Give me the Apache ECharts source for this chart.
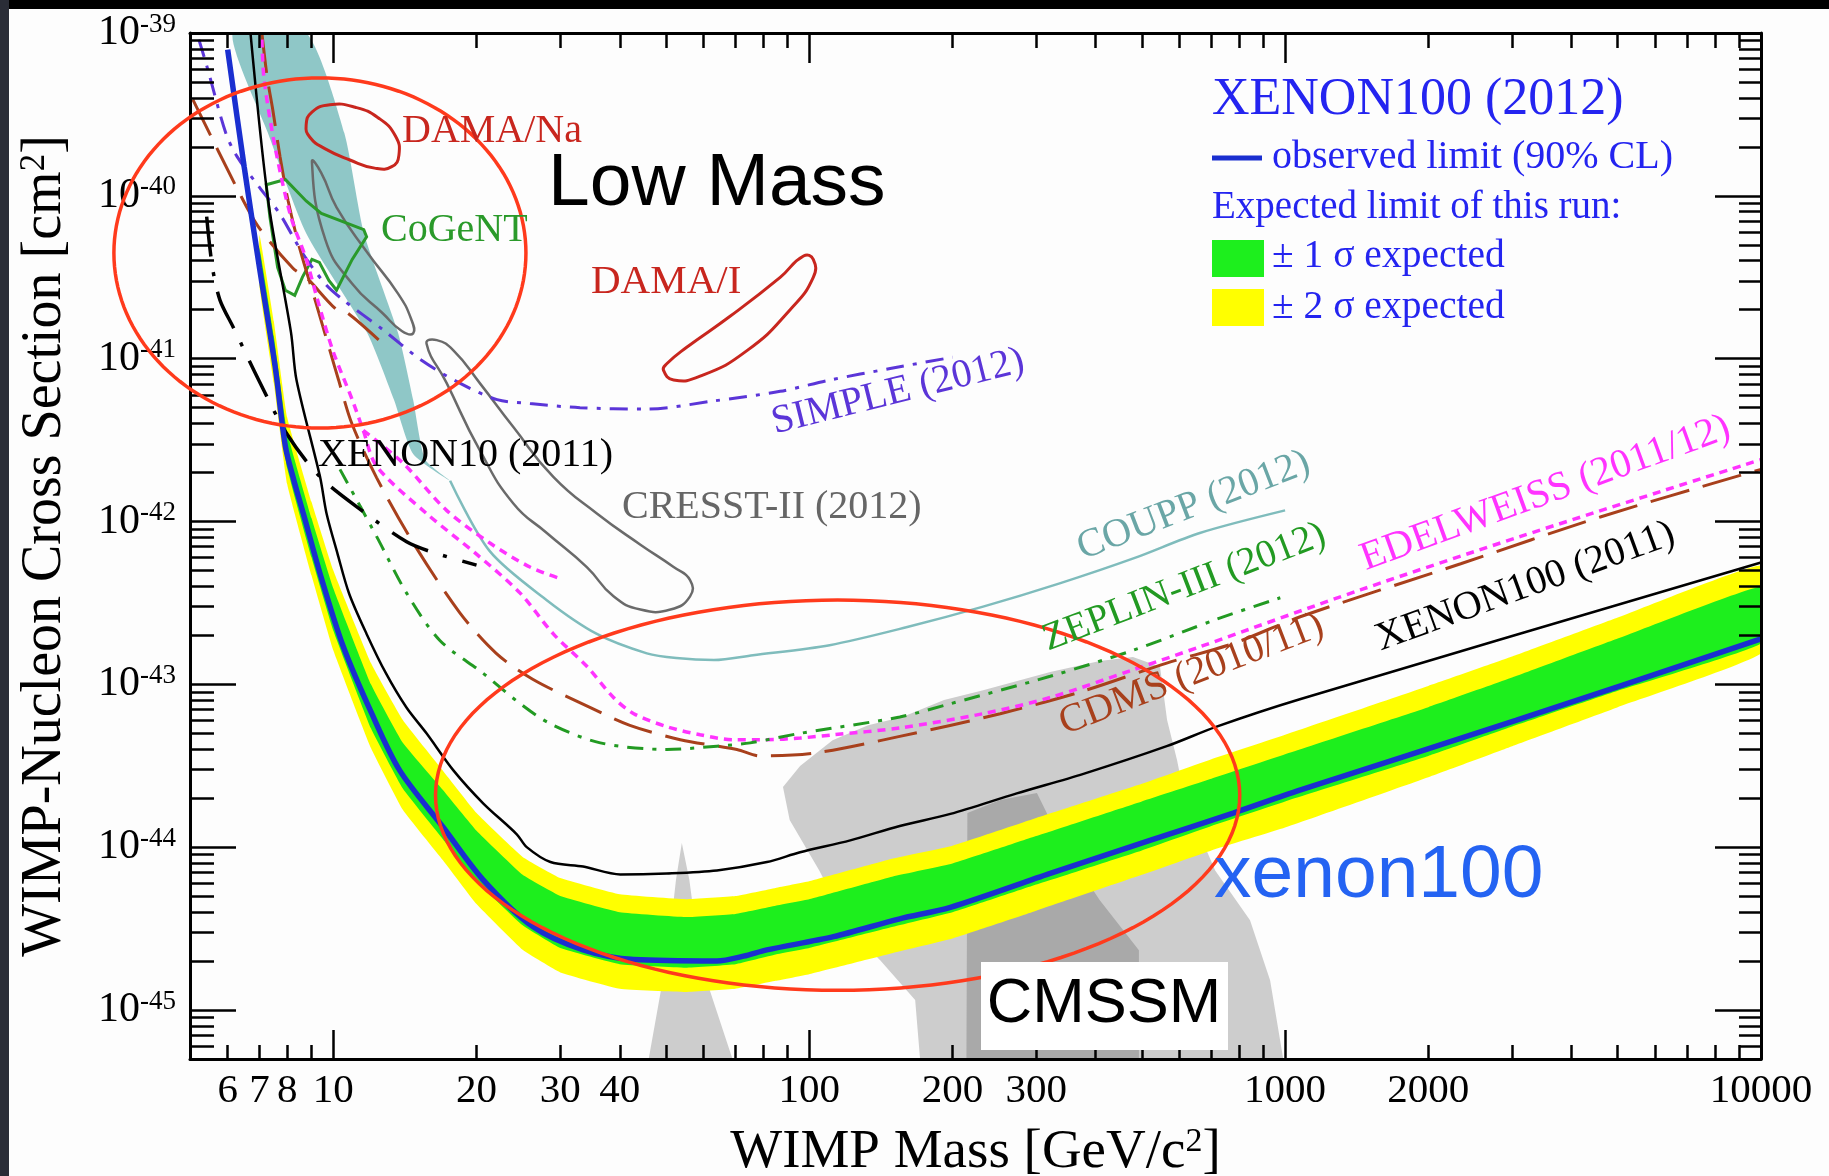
<!DOCTYPE html>
<html><head><meta charset="utf-8">
<script src="https://cdn.jsdelivr.net/npm/echarts@6/dist/echarts.min.js"></script>
<style>html,body{margin:0;padding:0;background:#fff}#c{width:1829px;height:1176px}</style>
</head><body><div id="c"></div>
<script>
// ---------------- DATA (mass in GeV/c^2, cross section in cm^2) ----------------
const xTickLabels = [6, 7, 8, 10, 20, 30, 40, 100, 200, 300, 1000, 2000, 10000];
const xMajorTicks = [10, 100, 1000, 10000];
const xMinorTicks = [6, 7, 8, 9, 20, 30, 40, 50, 60, 70, 80, 90, 200, 300, 400, 500, 600, 700, 800, 900,
  2000, 3000, 4000, 5000, 6000, 7000, 8000, 9000];
const yTickLabels = [1e-45, 1e-44, 1e-43, 1e-42, 1e-41, 1e-40, 1e-39];
const yDecades = [-46, -45, -44, -43, -42, -41, -40];
const yMinorMantissas = [2, 3, 4, 5, 6, 7, 8, 9];

// XENON100 (2012) observed limit
const xenon100_2012 = [[6.0,7.9e-40],[6.5,1.5e-40],[7.0,3.6e-41],[7.55,8.9e-42],[7.93,2.9e-42],[8.26,1.8e-42],
  [8.65,1.12e-42],[9.46,4.4e-43],[10.5,1.7e-43],[12.05,6.6e-44],[13.8,2.95e-44],[17.0,1.33e-44],[20.65,6.3e-45],
  [26.3,3.24e-45],[33.5,2.34e-45],[42.8,2.04e-45],[64,2.0e-45],[72.8,2.14e-45],[81.5,2.34e-45],[112.5,2.82e-45],
  [155,3.63e-45],[198,4.27e-45],[321,6.9e-45],[520,1.1e-44],[778,1.62e-44],[1074,2.24e-44],[3055,6.0e-44],[10000,1.9e-43]];

// expected sensitivity bands
const bandMass   = [7.0,7.5,8.0,9.0,10,12,14,17,20,25,30,40,55,70,85,100,150,200,300,500,700,1000,2000,3000,5000,10000];
const band2Upper = [5.75e-41,1.70e-41,4.37e-42,1.32e-42,5.01e-43,1.35e-43,6.03e-44,2.95e-44,1.62e-44,8.71e-45,6.46e-45,5.13e-45,4.79e-45,5.01e-45,5.62e-45,6.17e-45,8.51e-45,1.02e-44,1.51e-44,2.45e-44,3.47e-44,4.90e-44,9.77e-44,1.48e-43,2.57e-43,5.37e-43];
const band1Upper = [4.79e-41,1.38e-41,3.55e-42,1.05e-42,3.89e-43,1.0e-43,4.37e-44,2.24e-44,1.26e-44,6.76e-45,5.01e-45,3.98e-45,3.72e-45,3.89e-45,4.37e-45,4.79e-45,6.61e-45,7.94e-45,1.17e-44,1.91e-44,2.63e-44,3.72e-44,7.24e-44,1.10e-43,1.91e-43,3.98e-43];
const band1Lower = [3.16e-41,8.71e-42,2.14e-42,6.03e-43,2.14e-43,5.37e-44,2.29e-44,1.12e-44,6.17e-45,3.31e-45,2.40e-45,1.91e-45,1.82e-45,1.91e-45,2.19e-45,2.40e-45,3.24e-45,3.98e-45,5.89e-45,9.55e-45,1.35e-44,1.91e-44,3.63e-44,5.50e-44,9.12e-44,1.78e-43];
const band2Lower = [2.75e-41,7.08e-42,1.70e-42,4.68e-43,1.62e-43,4.07e-44,1.70e-44,8.32e-45,4.47e-45,2.34e-45,1.70e-45,1.35e-45,1.29e-45,1.35e-45,1.51e-45,1.66e-45,2.24e-45,2.75e-45,4.07e-45,6.76e-45,9.55e-45,1.32e-44,2.69e-44,4.17e-44,7.24e-44,1.55e-43];

const xenon100_2011 = [[6.7,1.0e-39],[7.3,9.3e-41],[8.15,1.45e-41],[8.37,7.4e-42],[9.38,1.88e-42],[9.68,1.12e-42],
  [10.2,6.4e-43],[10.8,3.6e-43],[11.75,2.04e-43],[12.9,1.17e-43],[14.25,7.2e-44],[15.7,5.0e-44],[17.9,2.95e-44],
  [20.65,1.86e-44],[24.3,1.2e-44],[25.5,1.0e-44],[28.6,8.1e-45],[33.5,7.6e-45],[40.1,6.8e-45],[50.2,6.9e-45],
  [64,7.2e-45],[81.5,8.1e-45],[95.7,9.3e-45],[122,1.1e-44],[155,1.35e-44],[198,1.6e-44],[273,2.14e-44],
  [377,2.82e-44],[564,4.17e-44],[718,5.5e-44],[1074,8.1e-44],[10000,5.6e-43]];

const xenon10_2011 = [[5.42,7.45e-41],[5.57,3.67e-41],[5.78,2.29e-41],[6.17,1.55e-41],[6.97,7.4e-42],[7.98,3.47e-42],
  [9.38,1.88e-42],[11.56,1.15e-42],[14.26,7.5e-43],[16.1,6.5e-43],[20.0,5.4e-43]];

const couppBand = [[6.15,1.0e-39],[7.29,2.43e-40],[8.77,5.9e-41],[11.78,1.44e-41],[13.42,5.57e-42],[14.72,2.6e-42],
  [17.6,1.78e-42],[15.6,2.4e-42],[14.72,5.57e-42],[13.68,1.44e-41],[11.6,5.9e-41],[10.55,2.43e-40],[8.77,1.0e-39]];
const coupp2012 = [[17.6,1.78e-42],[21.3,6.6e-43],[28.05,3.3e-43],[35.8,2.04e-43],[45.6,1.55e-43],[52.6,1.45e-43],
  [63.1,1.41e-43],[76.2,1.51e-43],[110.4,1.74e-43],[160,2.24e-43],[232,3.0e-43],[336,4.17e-43],[485,6.0e-43],
  [662,8.5e-43],[1000,1.17e-42]];

const edelweiss = [[7.08,9.1e-40],[7.16,5.1e-40],[7.57,1.9e-40],[8.15,7.4e-41],[8.77,4.1e-41],[9.27,2.29e-41],
  [9.98,1.12e-41],[10.96,5.6e-42],[11.56,3.63e-42],[12.33,2.19e-42],[15.7,1.12e-42],[20.0,6.3e-43],[24.7,3.63e-43],
  [29.0,2.04e-43],[34.1,1.29e-43],[38.8,8.3e-44],[42.8,6.6e-44],[50.2,5.5e-44],[59.0,4.9e-44],[69.3,4.57e-44],
  [81.5,4.57e-44],[95.7,4.68e-44],[112.5,4.9e-44],[155,5.4e-44],[232,6.6e-44],[321,8.3e-44],[480,1.23e-43],
  [662,1.7e-43],[1439,3.8e-43],[3126,8.1e-43],[10000,2.4e-42]];
const edelweissLow = [[11.56,3.63e-42],[14.0,2.29e-42],[17.3,1.17e-42],[21.3,7.4e-43],[25.9,5.25e-43],[29.9,4.47e-43]];

const cdms = [[7.08,1.0e-39],[7.26,5.4e-40],[7.46,3.4e-40],[7.73,1.74e-40],[8.04,9.3e-41],[8.51,4.7e-41],[9.16,2.29e-41],
  [9.84,1.12e-41],[10.26,7.4e-42],[10.94,4.0e-42],[12.33,1.86e-42],[14.72,7.4e-43],[18.45,2.75e-43],[22.0,1.55e-43],
  [26.3,1.07e-43],[34.7,7.2e-44],[42.0,5.6e-44],[53.6,4.57e-44],[70.5,3.98e-44],[78.9,3.63e-44],[103.8,3.8e-44],
  [155,4.79e-44],[252,6.6e-44],[377,9.1e-44],[564,1.35e-43],[778,1.78e-43],[1076,2.6e-43],[2339,5.5e-43],
  [4613,1.07e-42],[10000,2.09e-42]];
const cdmsLow = [[5.07,3.9e-40],[6.34,1.05e-40],[6.95,6.5e-41],[8.22,3.6e-41],[8.77,3.16e-41],[10.16,2.0e-41],
  [10.74,1.9e-41],[12.85,1.2e-41]];

const zeplin = [[10.33,2.09e-42],[12.33,8.1e-43],[14.26,3.63e-43],[16.75,1.86e-43],[20.65,1.17e-43],[24.3,7.9e-44],
  [28.5,5.75e-44],[36.4,4.37e-44],[50.2,3.98e-44],[64,4.17e-44],[75.2,4.37e-44],[95.7,5.0e-44],[155,6.3e-44],
  [198,7.6e-44],[321,1.12e-43],[480,1.62e-43],[718,2.51e-43],[977,3.4e-43]];

const simple2012 = [[5.22,9.1e-40],[5.43,6.2e-40],[5.94,2.45e-40],[6.28,1.74e-40],[7.01,1.12e-40],[7.71,7.8e-41],
  [8.61,4.47e-41],[9.62,2.88e-41],[10.5,2.29e-41],[12.7,1.51e-41],[15.3,9.8e-42],[18.4,7.1e-42],[22.1,5.6e-42],
  [25.9,5.3e-42],[33.0,5.0e-42],[45.6,4.9e-42],[63,5.5e-42],[86.9,6.3e-42],[110.7,7.4e-42],[148,8.7e-42],[200,1.02e-41]];

const cresst1 = [[9.02,1.62e-40],[9.62,5.4e-41],[10.96,2.88e-41],[12.7,1.9e-41],[13.93,1.48e-41],[14.72,1.43e-41],
  [14.59,1.74e-41],[13.68,2.51e-41],[11.8,4.47e-41],[10.16,8.5e-41],[9.44,1.38e-40]];
const cresst2 = [[15.7,1.24e-41],[17.3,7.1e-42],[20.3,2.75e-42],[23.9,1.29e-42],[28.1,8.5e-43],[34.1,5.25e-43],
  [38.8,3.47e-43],[44.2,2.88e-43],[51.1,2.88e-43],[56.2,3.47e-43],[56.2,4.37e-43],[51.9,5.25e-43],[44.2,7.2e-43],
  [35.8,1.12e-42],[29.0,1.88e-42],[23.9,3.8e-42],[20.3,7.1e-42],[17.9,1.12e-41],[16.5,1.3e-41]];
const damaNa = [[8.77,2.72e-40],[9.02,3.27e-40],[9.84,3.63e-40],[11.12,3.5e-40],[12.42,3.02e-40],[13.5,2.34e-40],
  [13.74,1.78e-40],[13.27,1.51e-40],[12.22,1.48e-40],[10.84,1.66e-40],[9.6,1.95e-40],[8.93,2.29e-40]];
const damaI = [[49.4,8.5e-42],[51.9,7.4e-42],[59.0,7.8e-42],[74.0,1.12e-41],[91.2,2.0e-41],[102,3.16e-41],
  [102,4.07e-41],[97.3,4.27e-41],[86.9,3.16e-41],[68.2,1.82e-41],[55.2,1.17e-41],[50.2,9.3e-42]];
const cogent = [[7.23,1.17e-40],[7.93,1.26e-40],[8.77,9.3e-41],[9.44,7.8e-41],[11.59,6.2e-41],[11.75,5.6e-41],
  [10.96,4.07e-41],[10.16,2.63e-41],[9.79,3.02e-41],[9.35,3.9e-41],[9.02,4.07e-41],[8.61,3.16e-41],[8.3,2.45e-41],
  [7.93,2.63e-41],[7.64,3.63e-41],[7.36,7.4e-41]];

const cmssmSpike = [[46,5e-46],[50.5,2.3e-45],[52.5,6.3e-45],[54,1.06e-44],[56,6.3e-45],[59,2.0e-45],[69,5e-46]];
const cmssmLight = [[88.1,2.34e-44],[95.7,3.15e-44],[112,4.54e-44],[133,5.61e-44],[157,6.3e-44],[192,8.0e-44],
  [232,9.2e-44],[321,1.19e-43],[408,1.39e-43],[479,1.47e-43],[546,1.28e-43],[565,6.03e-44],[593,3.42e-44],
  [616,1.95e-44],[713,7.2e-45],[844,3.56e-45],[930,1.52e-45],[991,5e-46],[171,5e-46],[167,1.15e-45],[141,2.02e-45],
  [122,3.09e-45],[105,7.2e-45],[91,1.47e-44]];
const cmssmDark = [[215,1.62e-44],[252,1.95e-44],[301,2.15e-44],[337,1.1e-44],[408,4.72e-45],[493,2.33e-45],
  [493,5e-46],[214,5e-46]];

// annotation ellipses: [mass left, mass right], [sigma top, sigma bottom]
const lowMassCircleMass = [3.46, 25.4], lowMassCircleSigma = [5.3e-40, 3.75e-42];
const cmssmCircleMass = [16.4, 803], cmssmCircleSigma = [3.29e-43, 1.32e-45];

// ---------------- BUILD ----------------
const LX = v => Math.round(Math.log10(v) * 1e9) / 1e9;
const X_MIN = LX(5), X_MAX = LX(10000), Y_MIN = LX(5e-46), Y_MAX = LX(1e-39);
const yMinorTicks = [];
yDecades.forEach(d => yMinorMantissas.forEach(m => { const v = m * Math.pow(10, d); if (v > 5.01e-46 && v < 1e-39) yMinorTicks.push(v); }));
const yMajorTicks = yTickLabels;

const SERIF = 'Liberation Serif', SANS = 'Liberation Sans';
const toXY = arr => arr.map(p => [LX(p[0]), LX(p[1])]);

function xAx(pos, ticks, len, showLine, labels) {
  return { type: 'value', position: pos, min: X_MIN, max: X_MAX, z: 10,
    axisLine: { show: showLine, onZero: false, lineStyle: { color: '#000', width: 3 } },
    axisTick: { show: true, inside: true, length: len, customValues: ticks.map(LX), lineStyle: { color: '#000', width: 2.5 } },
    axisLabel: labels ? { show: true, customValues: xTickLabels.map(LX), margin: 12, showMinLabel: true, showMaxLabel: true,
      formatter: v => String(Math.round(Math.pow(10, v))), fontFamily: SERIF, fontSize: 41, color: '#000' } : { show: false },
    splitLine: { show: false } };
}
function yAx(pos, ticks, len, showLine, labels) {
  return { type: 'value', position: pos, min: Y_MIN, max: Y_MAX, z: 10,
    axisLine: { show: showLine, onZero: false, lineStyle: { color: '#000', width: 3 } },
    axisTick: { show: true, inside: true, length: len, customValues: ticks.map(LX), lineStyle: { color: '#000', width: 2.5 } },
    axisLabel: labels ? { show: true, customValues: yTickLabels.map(LX), margin: 14, showMinLabel: true, showMaxLabel: true,
      formatter: v => '{a|10}{b|' + Math.round(v) + '}',
      rich: { a: { fontFamily: SERIF, fontSize: 42, color: '#000', lineHeight: 44 },
              b: { fontFamily: SERIF, fontSize: 27, color: '#000', verticalAlign: 'top', lineHeight: 27 } } } : { show: false },
    splitLine: { show: false } };
}

function lineS(name, pts, color, width, type, z, smooth) {
  return { type: 'line', name, data: toXY(pts), xAxisIndex: 0, yAxisIndex: 0, showSymbol: false, symbol: 'none',
    smooth: smooth === undefined ? 0.3 : smooth, z: z || 5, silent: true, animation: false,
    lineStyle: { color, width, type: type || 'solid', cap: 'butt' } };
}
function polyS(name, pts, style, smooth, z) {
  const d = toXY(pts);
  return { type: 'custom', name, coordinateSystem: 'cartesian2d', xAxisIndex: 0, yAxisIndex: 0, z: z || 3, silent: true,
    clip: true, animation: false, data: [d[0]],
    renderItem: (params, api) => ({ type: 'polygon', shape: { points: d.map(p => api.coord(p)), smooth: smooth || 0 }, style }) };
}
function bandS(name, up, lo, color, z) {
  const pts = bandMass.map((m, i) => [m, up[i]]).concat(bandMass.map((m, i) => [m, lo[i]]).reverse());
  return polyS(name, pts, { fill: color }, 0.1, z);
}
function ellipseS(name, mr, sr, color, z) {
  const c = [(LX(mr[0]) + LX(mr[1])) / 2, (LX(sr[0]) + LX(sr[1])) / 2];
  return { type: 'custom', name, coordinateSystem: 'cartesian2d', xAxisIndex: 0, yAxisIndex: 0, z, silent: true, clip: false,
    animation: false, data: [c],
    renderItem: (params, api) => {
      const a = api.coord([LX(mr[0]), LX(sr[0])]), b = api.coord([LX(mr[1]), LX(sr[1])]);
      const cx = (a[0] + b[0]) / 2, cy = (a[1] + b[1]) / 2, rx = Math.abs(b[0] - a[0]) / 2, ry = Math.abs(b[1] - a[1]) / 2;
      const pts = [];
      for (let i = 0; i < 160; i++) { const t = i / 160 * 2 * Math.PI; pts.push([cx + rx * Math.cos(t), cy + ry * Math.sin(t)]); }
      return { type: 'polygon', shape: { points: pts }, style: { fill: 'none', stroke: color, lineWidth: 3.5 } };
    } };
}

function txt(s, x, y, size, color, family, rotDeg) {
  return { type: 'text', x, y, rotation: (rotDeg || 0) * Math.PI / 180, z: 100, silent: true,
    style: { text: s, x: 0, y: Math.round(size * 0.22), fill: color, font: size + 'px "' + family + '"',
      textAlign: 'left', textVerticalAlign: 'bottom', align: 'left', verticalAlign: 'bottom' } };
}

const BLUE = '#1a2fd0';
const series = [
  polyS('CMSSM spike', cmssmSpike, { fill: '#cdcdcd' }, 0, 2),
  polyS('CMSSM', cmssmLight, { fill: '#cdcdcd' }, 0, 2),
  polyS('CMSSM core', cmssmDark, { fill: '#a9a9a9' }, 0, 2),
  polyS('COUPP band', couppBand, { fill: '#8fc7c7' }, 0.2, 2),
  bandS('±2σ expected', band2Upper, band2Lower, '#ffff00', 3),
  bandS('±1σ expected', band1Upper, band1Lower, '#1def1d', 3),
  polyS('CRESST-II a', cresst1, { fill: 'none', stroke: '#6a6a6a', lineWidth: 2.5 }, 0.5, 4),
  polyS('CRESST-II b', cresst2, { fill: 'none', stroke: '#6a6a6a', lineWidth: 2.5 }, 0.5, 4),
  polyS('DAMA/Na', damaNa, { fill: 'none', stroke: '#c8261e', lineWidth: 3 }, 0.5, 4),
  polyS('DAMA/I', damaI, { fill: 'none', stroke: '#c8261e', lineWidth: 3 }, 0.5, 4),
  polyS('CoGeNT', cogent, { fill: 'none', stroke: '#2a9a2a', lineWidth: 3 }, 0, 4),
  lineS('COUPP (2012)', coupp2012, '#7fbcbc', 2.5, 'solid', 4),
  lineS('SIMPLE (2012)', simple2012, '#5b35d8', 3, [18, 9, 4, 9], 4),
  lineS('CDMS low', cdmsLow, '#a8401c', 3, [40, 14], 4),
  lineS('CDMS (2010/11)', cdms, '#a8401c', 3, [40, 14], 4),
  lineS('EDELWEISS low', edelweissLow, '#ff33ff', 3.5, [8, 6], 4),
  lineS('EDELWEISS (2011/12)', edelweiss, '#ff33ff', 3.5, [8, 6], 4),
  lineS('ZEPLIN-III (2012)', zeplin, '#229a22', 3, [16, 9, 4, 9], 4),
  lineS('XENON10 (2011)', xenon10_2011, '#000', 3.5, [40, 16, 4, 16], 4),
  lineS('XENON100 (2011)', xenon100_2011, '#000', 2.5, 'solid', 4),
  lineS('XENON100 (2012)', xenon100_2012, BLUE, 5.5, 'solid', 5),
  ellipseS('Low mass', lowMassCircleMass, lowMassCircleSigma, '#ff3a1c', 12),
  ellipseS('CMSSM region', cmssmCircleMass, cmssmCircleSigma, '#ff3a1c', 12)
];

const LEG = '#2424f0';
const graphics = [
  { type: 'rect', shape: { x: 0, y: 0, width: 1829, height: 9 }, style: { fill: '#000' }, z: 100, silent: true },
  { type: 'rect', shape: { x: 0, y: 0, width: 9, height: 1176 }, style: { fill: '#2a2d37' }, z: 100, silent: true },
  // legend
  txt('XENON100 (2012)', 1212, 115, 52, LEG, SERIF),
  { type: 'line', shape: { x1: 1212, y1: 158, x2: 1262, y2: 158 }, style: { stroke: BLUE, lineWidth: 5 }, z: 100, silent: true },
  txt('observed limit (90% CL)', 1272, 168, 40, LEG, SERIF),
  txt('Expected limit of this run:', 1212, 218, 39, LEG, SERIF),
  { type: 'rect', shape: { x: 1212, y: 240, width: 52, height: 37 }, style: { fill: '#1def1d' }, z: 100, silent: true },
  txt('± 1 σ expected', 1272, 268, 39.5, LEG, SERIF),
  { type: 'rect', shape: { x: 1212, y: 289, width: 52, height: 37 }, style: { fill: '#ffff00' }, z: 100, silent: true },
  txt('± 2 σ expected', 1272, 319, 39.5, LEG, SERIF),
  // annotations
  txt('Low Mass', 548, 205, 75, '#000', SANS),
  txt('xenon100', 1214, 897, 75, '#2463f2', SANS),
  { type: 'rect', shape: { x: 981, y: 962, width: 247, height: 88 }, style: { fill: '#fff' }, z: 100, silent: true },
  { type: 'text', x: 1104, y: 1005, z: 101, silent: true, style: { text: 'CMSSM', fill: '#000', font: '63px "' + SANS + '"',
    textAlign: 'center', textVerticalAlign: 'middle', align: 'center', verticalAlign: 'middle' } },
  // curve labels
  txt('DAMA/Na', 402, 142, 40, '#c8261e', SERIF),
  txt('CoGeNT', 381, 241, 40, '#2a9a2a', SERIF),
  txt('DAMA/I', 591, 294, 41, '#c8261e', SERIF),
  txt('SIMPLE (2012)', 775, 434, 40, '#5b35d8', SERIF, 14),
  txt('XENON10 (2011)', 318, 466, 40, '#000', SERIF),
  txt('CRESST-II (2012)', 622, 518, 40, '#666', SERIF),
  txt('COUPP (2012)', 1083, 560, 40, '#6aa6a6', SERIF, 21),
  txt('ZEPLIN-III (2012)', 1048, 651, 39, '#229a22', SERIF, 21),
  txt('CDMS (2010/11)', 1065, 735, 40, '#a8401c', SERIF, 21),
  txt('EDELWEISS (2011/12)', 1366, 571, 40.5, '#ff33ff', SERIF, 20),
  txt('XENON100 (2011)', 1381, 651, 40, '#000', SERIF, 20)
];

const chart = echarts.init(document.getElementById('c'), null, { renderer: 'canvas' });
chart.setOption({
  animation: false,
  backgroundColor: '#fdfdfd',
  grid: { left: 190, top: 33, width: 1571, height: 1026, containLabel: false, outerBoundsMode: 'none' },
  xAxis: [
    Object.assign(xAx('bottom', xMinorTicks, 14, true, true), { name: 'WIMP Mass [GeV/c{s|2}]', nameLocation: 'middle', nameGap: 66,
      nameMoveOverlap: false,
      nameTextStyle: { fontFamily: SERIF, fontSize: 55, color: '#000', rich: { s: { fontFamily: SERIF, fontSize: 34, verticalAlign: 'top', color: '#000' } } } }),
    xAx('bottom', xMajorTicks, 29, false, false),
    xAx('top', xMinorTicks, 15, true, false),
    xAx('top', xMajorTicks, 30, false, false)
  ],
  yAxis: [
    Object.assign(yAx('left', yMinorTicks, 24, true, true), { name: 'WIMP-Nucleon Cross Section [cm{s|2}]', nameLocation: 'middle',
      nameGap: 117, nameMoveOverlap: false,
      nameTextStyle: { fontFamily: SERIF, fontSize: 56, color: '#000', rich: { s: { fontFamily: SERIF, fontSize: 35, verticalAlign: 'top', color: '#000' } } } }),
    yAx('left', yMajorTicks, 46, false, false),
    yAx('right', yMinorTicks, 22, true, false),
    yAx('right', yMajorTicks, 46, false, false)
  ],
  series,
  graphic: { elements: graphics }
});
</script>
</body></html>
